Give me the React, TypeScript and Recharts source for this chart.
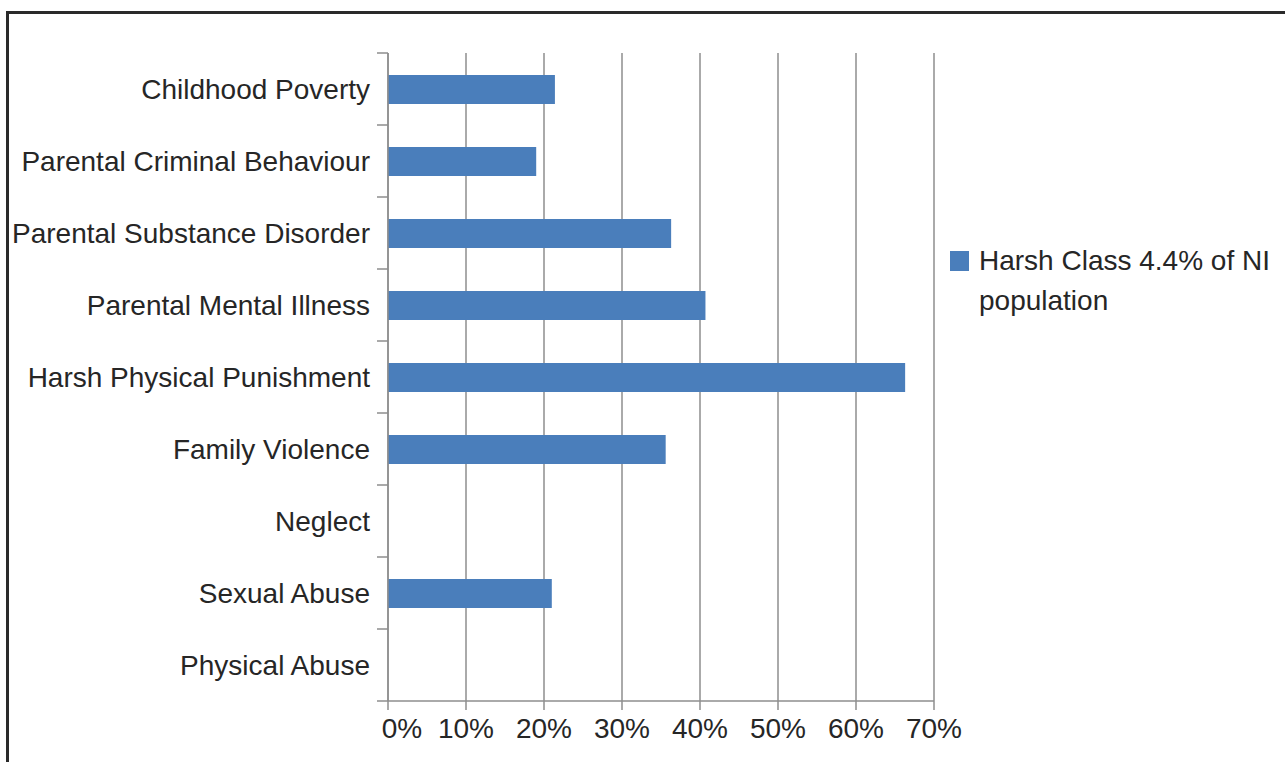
import React from 'react';
import { BarChart, Bar, XAxis, YAxis, CartesianGrid, Legend } from 'recharts';

const categories = [
  'Childhood Poverty',
  'Parental Criminal Behaviour',
  'Parental Substance Disorder',
  'Parental Mental Illness',
  'Harsh Physical Punishment',
  'Family Violence',
  'Neglect',
  'Sexual Abuse',
  'Physical Abuse',
];
const harshValues: (number | null)[] = [21.4, 19.0, 36.3, 40.7, 66.3, 35.6, null, 21.0, null];
const seriesName = 'Harsh Class 4.4% of NI population';
const xTicks = [0, 10, 20, 30, 40, 50, 60, 70];

const data = categories.map((name, i) => ({ name, harsh: harshValues[i] }));

const FONT = '"Liberation Sans", Arial, Helvetica, sans-serif';
const FS = 28;
const TEXT = '#262626';
const GRID = '#8e8e8e';
const BAR = '#4a7ebb';
const Y_TICK_SIZE = 6;
const Y_TICK_MARGIN = 12;
const BOUNDARY_TICK = 11;

const XTick = (props: any) => {
  const { x, y, payload, index } = props;
  const dx = index === 0 ? 14 : 0;
  return (
    <text x={x + dx} y={y} dy="0.71em" textAnchor="middle" fill={TEXT} fontSize={FS} fontFamily={FONT}>
      {`${payload.value}%`}
    </text>
  );
};

const YTick = (props: any) => {
  const { x, y, payload, index, visibleTicksCount } = props;
  const axisX = x + Y_TICK_SIZE + Y_TICK_MARGIN;
  const half = payload.offset || 0;
  const isLast = index === visibleTicksCount - 1;
  return (
    <g>
      <line x1={axisX - BOUNDARY_TICK} x2={axisX} y1={y - half} y2={y - half} stroke={GRID} strokeWidth={1.5} />
      {isLast && (
        <line x1={axisX - BOUNDARY_TICK} x2={axisX} y1={y + half} y2={y + half} stroke={GRID} strokeWidth={1.5} />
      )}
      <text x={x} y={y} dy="0.355em" textAnchor="end" fill={TEXT} fontSize={FS} fontFamily={FONT}>
        {payload.value}
      </text>
    </g>
  );
};

const LegendContent = (props: any) => {
  const { payload } = props;
  return (
    <div>
      {(payload || []).map((p: any) => (
        <div key={p.value} style={{ display: 'flex', alignItems: 'flex-start' }}>
          <div style={{ width: 19, height: 20, background: p.color, marginTop: 10, marginRight: 10, flex: 'none' }} />
          <div style={{ fontFamily: FONT, fontSize: FS, lineHeight: '40px', color: TEXT, width: 300 }}>{p.value}</div>
        </div>
      ))}
    </div>
  );
};

export default function App() {
  return (
    <div style={{ position: 'absolute', left: 0, top: 0, width: 1285, height: 762, background: '#fff', overflow: 'hidden' }}>
      <div
        style={{
          position: 'absolute',
          left: 6,
          top: 11,
          width: 1300,
          height: 800,
          borderTop: '3px solid #2a2a2a',
          borderLeft: '3px solid #2a2a2a',
        }}
      />
      <div style={{ position: 'absolute', left: 0, top: 0 }}>
        <BarChart
          width={1285}
          height={762}
          data={data}
          layout="vertical"
          margin={{ top: 53, right: 351, bottom: 0, left: 0 }}
          barCategoryGap={0}
        >
          <CartesianGrid horizontal={false} vertical stroke={GRID} strokeWidth={1.5} />
          <XAxis
            type="number"
            domain={[0, 70]}
            ticks={xTicks}
            interval={0}
            allowDataOverflow
            height={61}
            stroke={GRID}
            strokeWidth={1.5}
            tickSize={9}
            tickMargin={8}
            tick={<XTick />}
          />
          <YAxis
            type="category"
            dataKey="name"
            width={388}
            interval={0}
            tickLine={false}
            tickSize={Y_TICK_SIZE}
            tickMargin={Y_TICK_MARGIN}
            stroke={GRID}
            strokeWidth={1.5}
            tick={<YTick />}
          />
          <Legend
            layout="vertical"
            align="center"
            verticalAlign="middle"
            content={<LegendContent />}
            wrapperStyle={{ position: 'absolute', left: 950, top: 241, width: 330 }}
          />
          <Bar dataKey="harsh" name={seriesName} fill={BAR} barSize={29} isAnimationActive={false} />
        </BarChart>
      </div>
    </div>
  );
}
